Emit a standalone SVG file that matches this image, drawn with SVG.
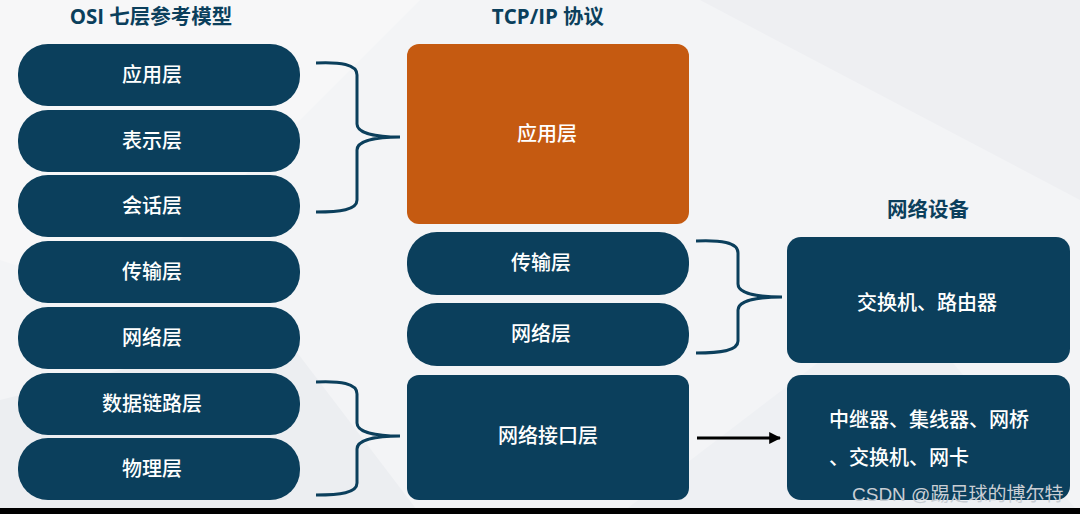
<svg xmlns="http://www.w3.org/2000/svg" width="1080" height="514" viewBox="0 0 1080 514">
<defs>
<style>
.pill{fill:#0b3f5c}
.org{fill:#c55a11}
.lbl{font-family:"Noto Sans CJK SC","Noto Sans",sans-serif;font-size:20px;fill:#ffffff;text-anchor:middle;font-weight:500}
.ttl{font-family:"Open Sans","Noto Sans CJK SC",sans-serif;font-size:20.5px;fill:#0b3f5c;text-anchor:middle;font-weight:700}
.br{fill:none;stroke:#0b3f5c;stroke-width:3}
</style>
<marker id="ah" viewBox="0 0 10 10" refX="9" refY="5" markerWidth="4" markerHeight="4" orient="auto"><path d="M0,0 L10,5 L0,10 z" fill="#000"/></marker>
</defs>
<rect width="1080" height="514" fill="#f3f4f6"/>
<polygon points="0,0 420,0 120,300 0,260" fill="#f7f7f8"/>
<polygon points="700,0 1080,0 1080,200" fill="#eeeff2"/>
<polygon points="0,400 280,330 420,514 0,514" fill="#eceef1"/>
<polygon points="620,514 900,300 1080,514" fill="#eef0f3"/>
<text class="ttl" x="151" y="24">OSI 七层参考模型</text>
<text class="ttl" x="548" y="24">TCP/IP 协议</text>
<text class="ttl" x="928" y="217">网络设备</text>
<g id="osi-app"><rect class="pill" x="18" y="44" width="282" height="62" rx="30"/><text class="lbl" x="152" y="82">应用层</text></g>
<g id="osi-pres"><rect class="pill" x="18" y="110" width="282" height="62" rx="30"/><text class="lbl" x="152" y="148">表示层</text></g>
<g id="osi-sess"><rect class="pill" x="18" y="175" width="282" height="62" rx="30"/><text class="lbl" x="152" y="213">会话层</text></g>
<g id="osi-trans"><rect class="pill" x="18" y="241" width="282" height="62" rx="30"/><text class="lbl" x="152" y="279">传输层</text></g>
<g id="osi-net"><rect class="pill" x="18" y="307" width="282" height="62" rx="30"/><text class="lbl" x="152" y="345">网络层</text></g>
<g id="osi-dl"><rect class="pill" x="18" y="373" width="282" height="62" rx="30"/><text class="lbl" x="152" y="411">数据链路层</text></g>
<g id="osi-phy"><rect class="pill" x="18" y="438" width="282" height="62" rx="30"/><text class="lbl" x="152" y="476">物理层</text></g>
<g id="tcp-app"><rect class="org" x="407" y="44" width="282" height="180" rx="12"/><text class="lbl" x="547" y="141">应用层</text></g>
<g id="tcp-trans"><rect class="pill" x="407" y="232" width="282" height="63" rx="30"/><text class="lbl" x="541" y="270">传输层</text></g>
<g id="tcp-net"><rect class="pill" x="407" y="303" width="282" height="63" rx="30"/><text class="lbl" x="541" y="341">网络层</text></g>
<g id="tcp-if"><rect class="pill" x="407" y="375" width="282" height="125" rx="12"/><text class="lbl" x="548" y="443">网络接口层</text></g>
<g id="dev-sw"><rect class="pill" x="787" y="237" width="283" height="126" rx="14"/><text class="lbl" x="927" y="310">交换机、路由器</text></g>
<g id="dev-hub"><rect class="pill" x="787" y="375" width="283" height="125" rx="14"/><text class="lbl" x="829" y="427" style="text-anchor:start">中继器、集线器、网桥</text><text class="lbl" x="829" y="465" style="text-anchor:start">、交换机、网卡</text></g>
<g id="connectors">
<path class="br" d="M316,63 C340,62 357,64 357,75 V124 C357,133 375,137 400,137 C375,137 357,141 357,150 V200 C357,210 340,212 316,212"/>
<path class="br" d="M316,382 C340,381 357,383 357,394 V423 C357,432 375,436 400,436 C375,436 357,440 357,449 V483 C357,493 340,495 316,495"/>
<path class="br" d="M696,241 C720,240 738,242 738,253 V284 C738,293 756,297 782,297 C756,297 738,301 738,310 V341 C738,351 720,353 696,353"/>
<line x1="697" y1="438" x2="780" y2="438" stroke="#000" stroke-width="3" marker-end="url(#ah)"/>
</g>
<text x="852" y="501" font-family="Liberation Sans, Noto Sans CJK SC, sans-serif" font-size="19" fill="#c9ced4">CSDN @踢足球的博尔特</text>
<rect x="0" y="508" width="1080" height="6" fill="#000"/>
</svg>
